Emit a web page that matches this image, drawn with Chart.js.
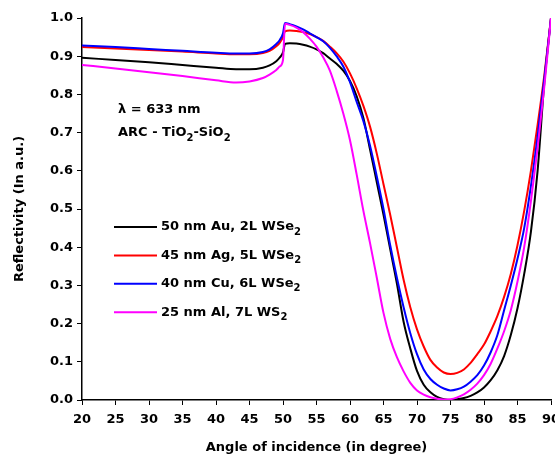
<!DOCTYPE html>
<html>
<head>
<meta charset="utf-8">
<script src="https://cdn.jsdelivr.net/npm/chart.js@4.4.1/dist/chart.umd.min.js"></script>
<style>
  html, body { margin: 0; padding: 0; background: #fff; }
  #wrap { width: 555px; height: 457px; }
</style>
</head>
<body>
<div id="wrap"><canvas id="reflChart" width="555" height="457"></canvas></div>
<script>
// angle of incidence (degree)
var angles = [20, 25, 30, 35, 40, 43, 45, 47, 48, 49, 49.5, 50, 50.3,
  51, 52, 53, 54, 55, 56, 57, 58, 59, 60, 61, 62, 63, 64, 65, 66, 67, 68, 69, 70,
  71, 72, 73, 74, 75, 76, 77, 78, 79, 80, 81, 82, 83, 84, 85, 86, 87, 88, 89, 90];

// reflectivity
var auWSe2 = [0.896, 0.89, 0.884, 0.877, 0.87, 0.866, 0.866, 0.87, 0.876, 0.887, 0.896, 0.91, 0.932,
  0.934, 0.933, 0.93, 0.925, 0.918, 0.908, 0.894, 0.88, 0.862, 0.835, 0.795, 0.738, 0.655, 0.57, 0.485, 0.395, 0.305, 0.205, 0.135, 0.076,
  0.04, 0.02, 0.008, 0.002, 0.0, 0.002, 0.005, 0.011, 0.02, 0.033, 0.052, 0.078, 0.115, 0.17, 0.24, 0.33, 0.44, 0.6, 0.83, 1.0];
var agWSe2 = [0.924, 0.92, 0.916, 0.912, 0.907, 0.905, 0.905, 0.908, 0.914, 0.926, 0.935, 0.95, 0.965,
  0.967, 0.966, 0.963, 0.958, 0.95, 0.94, 0.925, 0.908, 0.886, 0.855, 0.816, 0.77, 0.715, 0.645, 0.565, 0.485, 0.4, 0.315, 0.243, 0.185,
  0.14, 0.105, 0.085, 0.072, 0.068, 0.071, 0.08, 0.097, 0.12, 0.145, 0.18, 0.22, 0.27, 0.33, 0.405, 0.495, 0.6, 0.72, 0.85, 1.0];
var cuWSe2 = [0.928, 0.924, 0.919, 0.914, 0.909, 0.907, 0.907, 0.911, 0.918, 0.932, 0.942, 0.96, 0.987,
  0.984, 0.978, 0.97, 0.96, 0.95, 0.939, 0.922, 0.9, 0.873, 0.832, 0.78, 0.73, 0.665, 0.585, 0.5, 0.405, 0.32, 0.243, 0.175, 0.12,
  0.08, 0.055, 0.04, 0.03, 0.025, 0.028, 0.035, 0.048, 0.065, 0.09, 0.125, 0.17, 0.235, 0.3, 0.37, 0.45, 0.56, 0.69, 0.84, 1.0];
var alWS2 = [0.877, 0.868, 0.858, 0.848, 0.837, 0.831, 0.834, 0.843, 0.852, 0.864, 0.873, 0.89, 0.985,
  0.982, 0.975, 0.963, 0.946, 0.925, 0.897, 0.862, 0.81, 0.75, 0.68, 0.59, 0.495, 0.41, 0.32, 0.228, 0.16, 0.112, 0.075, 0.045, 0.025,
  0.014, 0.007, 0.003, 0.001, 0.002, 0.007, 0.015, 0.027, 0.043, 0.065, 0.095, 0.135, 0.18, 0.235, 0.31, 0.4, 0.52, 0.66, 0.82, 1.0];

// legend text: [normal, subscript] pieces
var legendLabels = [
  [['50 nm Au, 2L WSe', 0], ['2', 1]],
  [['45 nm Ag, 5L WSe', 0], ['2', 1]],
  [['40 nm Cu, 6L WSe', 0], ['2', 1]],
  [['25 nm Al, 7L WS', 0], ['2', 1]]
];
var seriesColors = ['#000000', '#ff0000', '#0000ff', '#ff00ff'];
var seriesValues = [auWSe2, agWSe2, cuWSe2, alWS2];

var FONT = '"DejaVu Sans", Verdana, sans-serif';

function toPoints(vals) {
  return angles.map(function (a, i) { return { x: a, y: vals[i] }; });
}

// draws text with subscripts, returns end x
function drawRich(ctx, parts, x, y) {
  parts.forEach(function (p) {
    if (p[1]) {
      ctx.font = 'bold 10px ' + FONT;
      ctx.fillText(p[0], x, y + 5);
    } else {
      ctx.font = 'bold 13px ' + FONT;
      ctx.fillText(p[0], x, y);
    }
    x += ctx.measureText(p[0]).width;
  });
  return x;
}

var notesPlugin = {
  id: 'notes',
  afterDraw: function (chart) {
    var ctx = chart.ctx;
    ctx.save();
    ctx.fillStyle = '#000';
    ctx.textBaseline = 'middle';
    ctx.textAlign = 'left';
    drawRich(ctx, [['\u03BB = 633 nm', 0]], 118, 110);
    drawRich(ctx, [['ARC - TiO', 0], ['2', 1], ['-SiO', 0], ['2', 1]], 118, 133);

    // legend
    legendLabels.forEach(function (lbl, i) {
      var y = 227 + i * 28.4;
      ctx.strokeStyle = seriesColors[i];
      ctx.lineWidth = 2;
      ctx.beginPath();
      ctx.moveTo(114, y);
      ctx.lineTo(157, y);
      ctx.stroke();
      ctx.fillStyle = '#000';
      drawRich(ctx, lbl, 161, y);
    });
    ctx.restore();
  }
};

var ctx = document.getElementById('reflChart').getContext('2d');
var reflChart = new Chart(ctx, {
  type: 'line',
  data: {
    datasets: seriesValues.map(function (vals, i) {
      return {
        data: toPoints(vals),
        borderColor: seriesColors[i],
        borderWidth: 2,
        pointRadius: 0,
        fill: false,
        cubicInterpolationMode: 'monotone',
        order: 4 - i
      };
    })
  },
  options: {
    responsive: false,
    animation: false,
    layout: { padding: { top: 18, right: 4, bottom: 0, left: 0 } },
    plugins: { legend: { display: false }, tooltip: { enabled: false } },
    scales: {
      x: {
        type: 'linear',
        min: 20,
        max: 90,
        afterFit: function (scale) {
          scale.height = 57;
          scale.paddingLeft = 0;
          scale.paddingRight = 0;
        },
        border: { display: true, color: '#000', width: 1.5 },
        grid: { drawOnChartArea: false, drawTicks: true, tickLength: 5, color: '#000', lineWidth: 1 },
        ticks: {
          stepSize: 5,
          padding: 7,
          color: '#000',
          maxRotation: 0,
          font: { family: FONT, size: 13, weight: 'bold' }
        },
        title: {
          display: true,
          text: 'Angle of incidence (in degree)',
          color: '#000',
          padding: { top: 0, bottom: 2 },
          font: { family: FONT, size: 13, weight: 'bold' }
        }
      },
      y: {
        min: 0,
        max: 1.0,
        afterFit: function (scale) {
          scale.width = 82;
          scale.paddingTop = 0;
          scale.paddingBottom = 0;
        },
        border: { display: true, color: '#000', width: 1.5 },
        grid: { drawOnChartArea: false, drawTicks: true, tickLength: 5, color: '#000', lineWidth: 1 },
        ticks: {
          stepSize: 0.1,
          padding: 4,
          color: '#000',
          font: { family: FONT, size: 13, weight: 'bold' },
          callback: function (v) { return v.toFixed(1); }
        },
        title: {
          display: true,
          text: 'Reflectivity (In a.u.)',
          color: '#000',
          padding: { top: 12, bottom: 0 },
          font: { family: FONT, size: 13, weight: 'bold' }
        }
      }
    }
  },
  plugins: [notesPlugin]
});
</script>
</body>
</html>
